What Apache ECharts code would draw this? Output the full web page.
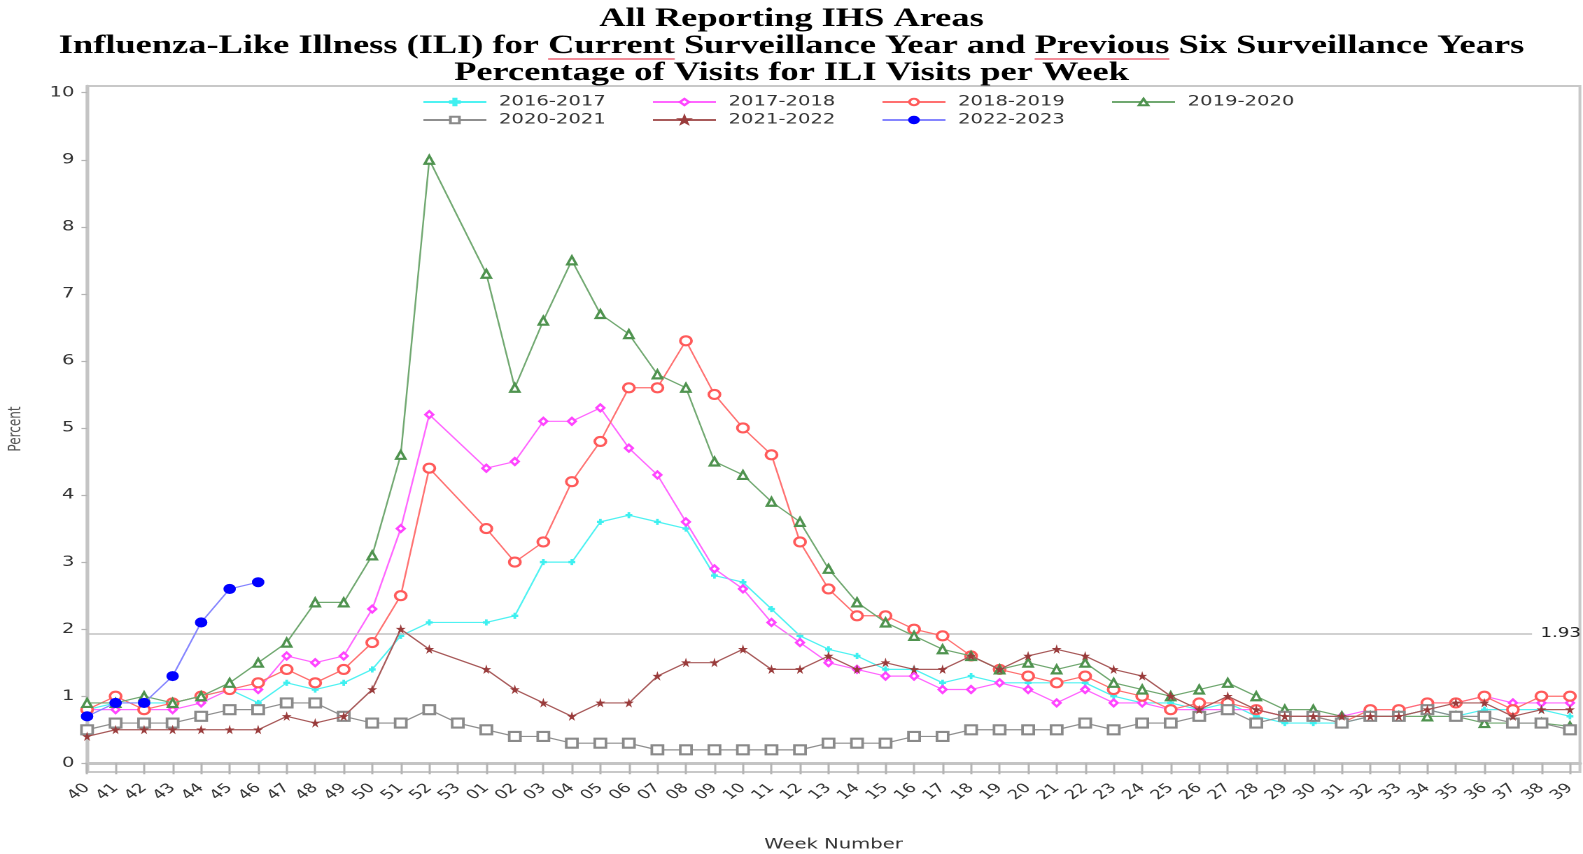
<!DOCTYPE html>
<html>
<head>
<meta charset="utf-8">
<script src="https://cdn.jsdelivr.net/npm/echarts@6/dist/echarts.min.js"></script>
<style>
html,body{margin:0;padding:0;background:#fff;overflow:hidden;width:1583px;height:854px;}
#main{width:1131px;height:854px;transform:scaleX(1.39965);transform-origin:0 0;}
</style>
</head>
<body>
<div id="main"></div>
<script>
// ---------- data ----------
const weekLabels = ['40','41','42','43','44','45','46','47','48','49','50','51','52','53',
  '01','02','03','04','05','06','07','08','09','10','11','12','13','14','15','16','17','18','19','20',
  '21','22','23','24','25','26','27','28','29','30','31','32','33','34','35','36','37','38','39'];
const yTicks = [0,1,2,3,4,5,6,7,8,9,10];
const seriesNames = ['2016-2017','2017-2018','2018-2019','2019-2020','2020-2021','2021-2022','2022-2023'];
const baseline = 1.93;

const s1617 = [0.8,0.9,0.9,0.9,1.0,1.1,0.9,1.2,1.1,1.2,1.4,1.9,2.1,null,2.1,2.2,3.0,3.0,3.6,3.7,3.6,3.5,2.8,2.7,2.3,1.9,1.7,1.6,1.4,1.4,1.2,1.3,1.2,1.2,1.2,1.2,1.0,0.9,0.9,0.8,0.9,0.7,0.6,0.6,0.6,0.7,0.7,0.8,0.7,0.8,0.8,0.8,0.7];
const s1718 = [0.8,0.8,0.8,0.8,0.9,1.1,1.1,1.6,1.5,1.6,2.3,3.5,5.2,null,4.4,4.5,5.1,5.1,5.3,4.7,4.3,3.6,2.9,2.6,2.1,1.8,1.5,1.4,1.3,1.3,1.1,1.1,1.2,1.1,0.9,1.1,0.9,0.9,0.8,0.8,0.8,0.8,0.7,0.7,0.7,0.8,0.8,0.9,0.9,1.0,0.9,0.9,0.9];
const s1819 = [0.8,1.0,0.8,0.9,1.0,1.1,1.2,1.4,1.2,1.4,1.8,2.5,4.4,null,3.5,3.0,3.3,4.2,4.8,5.6,5.6,6.3,5.5,5.0,4.6,3.3,2.6,2.2,2.2,2.0,1.9,1.6,1.4,1.3,1.2,1.3,1.1,1.0,0.8,0.9,0.9,0.8,0.7,0.7,0.6,0.8,0.8,0.9,0.9,1.0,0.8,1.0,1.0];
const s1920 = [0.9,0.9,1.0,0.9,1.0,1.2,1.5,1.8,2.4,2.4,3.1,4.6,9.0,null,7.3,5.6,6.6,7.5,6.7,6.4,5.8,5.6,4.5,4.3,3.9,3.6,2.9,2.4,2.1,1.9,1.7,1.6,1.4,1.5,1.4,1.5,1.2,1.1,1.0,1.1,1.2,1.0,0.8,0.8,0.7,0.7,0.7,0.7,0.7,0.6,0.6,0.6,0.55];
const s2021 = [0.5,0.6,0.6,0.6,0.7,0.8,0.8,0.9,0.9,0.7,0.6,0.6,0.8,0.6,0.5,0.4,0.4,0.3,0.3,0.3,0.2,0.2,0.2,0.2,0.2,0.2,0.3,0.3,0.3,0.4,0.4,0.5,0.5,0.5,0.5,0.6,0.5,0.6,0.6,0.7,0.8,0.6,0.7,0.7,0.6,0.7,0.7,0.8,0.7,0.7,0.6,0.6,0.5];
const s2122 = [0.4,0.5,0.5,0.5,0.5,0.5,0.5,0.7,0.6,0.7,1.1,2.0,1.7,null,1.4,1.1,0.9,0.7,0.9,0.9,1.3,1.5,1.5,1.7,1.4,1.4,1.6,1.4,1.5,1.4,1.4,1.6,1.4,1.6,1.7,1.6,1.4,1.3,1.0,0.8,1.0,0.8,0.7,0.7,0.7,0.7,0.7,0.8,0.9,0.9,0.7,0.8,0.8];
const s2223 = [0.7,0.9,0.9,1.3,2.1,2.6,2.7];

// ---------- chart ----------
const W = 1131;
const chart = echarts.init(document.getElementById('main'), null, {devicePixelRatio: 2});

const PLUS = 'path://M3,0H5V3H8V5H5V8H3V5H0V3H3Z';
const STAR = 'path://M50,0L61,35L98,35L68,57L79,91L50,70L21,91L32,57L2,35L39,35Z';

const styles = [
  {color:'#3ff0f0', line:'#4ff2f2', symbol:PLUS, size:[4,5]},
  {color:'#ff44ff', line:'#ff66ff', symbol:'emptyDiamond', size:[5.5,7]},
  {color:'#ff5a5a', line:'#ff7070', symbol:'emptyCircle', size:[8,9]},
  {color:'#4f934f', line:'#70a870', symbol:'emptyTriangle', size:[6.5,8]},
  {color:'#8a8a8a', line:'#8f8f8f', symbol:'emptyRect', size:[8,9]},
  {color:'#9a3c3c', line:'#a85a5a', symbol:STAR, size:[4.5,6]},
  {color:'#0000ff', line:'#8585ff', symbol:'circle', size:[8,9]}
];
const dataArrays = [s1617, s1718, s1819, s1920, s2021, s2122, s2223];

const series = dataArrays.map((arr, k) => ({
  name: seriesNames[k],
  type: 'line',
  data: arr.map((v, i) => [i, v]),
  connectNulls: true,
  symbol: styles[k].symbol,
  symbolSize: styles[k].size,
  showAllSymbol: true,
  z: 3 + k,
  lineStyle: {color: styles[k].line, width: 1.2},
  itemStyle: {color: styles[k].color, borderColor: styles[k].color, borderWidth: 1},
  emphasis: {disabled: true}
}));

series.push({
  name: 'ref', type: 'line', data: [], z: 1, silent: true,
  markLine: {
    silent: true, symbol: 'none', animation: false,
    lineStyle: {color: '#c2c2c2', width: 1.5, type: 'solid'},
    label: {show: true, position: 'end', distance: 6, formatter: String(baseline),
            color: '#222', fontSize: 13, fontFamily: 'DejaVu Sans'},
    data: [[{coord: [0, baseline]}, {coord: [50.67, baseline]}]]
  }
});

// title underline positions (measured from the rendered font)
const titleFont = 'bold 26px "Liberation Serif"';
const ctx = document.createElement('canvas').getContext('2d');
ctx.font = titleFont;
const line2 = 'Influenza-Like Illness (ILI) for Current Surveillance Year and Previous Six Surveillance Years';
const w2 = ctx.measureText(line2).width;
const x0 = W / 2 - w2 / 2;
const pA = ctx.measureText('Influenza-Like Illness (ILI) for ').width;
const wA = ctx.measureText('Current').width;
const pB = ctx.measureText('Influenza-Like Illness (ILI) for Current Surveillance Year and ').width;
const wB = ctx.measureText('Previous').width;

const idx = weekLabels.map((_, i) => i);

chart.setOption({
  animation: false,
  backgroundColor: '#fff',
  title: {
    text: 'All Reporting IHS Areas\n' + line2 + '\nPercentage of Visits for ILI Visits per Week',
    left: 'center', top: 6, padding: 0,
    textStyle: {fontFamily: 'Liberation Serif', fontWeight: 'bold', fontSize: 26, lineHeight: 27, color: '#000'}
  },
  graphic: [
    {type: 'rect', shape: {x: x0 + pA, y: 58, width: wA, height: 2}, style: {fill: '#f08c98'}, silent: true, z: 0},
    {type: 'rect', shape: {x: x0 + pB, y: 58, width: wB, height: 2}, style: {fill: '#f08c98'}, silent: true, z: 0}
  ],
  legend: {
    data: seriesNames,
    left: 301.5, top: 95, width: 660, padding: 0,
    itemWidth: 45, itemHeight: 8, itemGap: 4,
    textStyle: {fontFamily: 'DejaVu Sans', fontSize: 14, color: '#333', lineHeight: 14,
                width: 105, padding: [0, 0, 0, 4]},
    selectedMode: false
  },
  grid: {left: 62.2, right: 2.2, top: 86, bottom: 82, show: true, borderColor: '#c8c8c8', borderWidth: 2,
         containLabel: false, outerBoundsMode: 'none'},
  xAxis: {
    type: 'value', min: 0, max: 52.35,
    name: 'Week Number', nameLocation: 'middle', nameGap: 66,
    nameTextStyle: {fontFamily: 'DejaVu Sans', fontSize: 14, color: '#333'},
    axisLine: {show: true, lineStyle: {color: '#c4c4c4', width: 3}},
    axisTick: {show: true, length: 11, customValues: idx, lineStyle: {color: '#b4b4b4', width: 1.5}},
    axisLabel: {customValues: idx, rotate: 45, margin: 14, fontFamily: 'DejaVu Sans', fontSize: 13, color: '#333',
                formatter: v => weekLabels[Math.round(v)]},
    splitLine: {show: false}
  },
  yAxis: {
    type: 'value', min: -0.13, max: 10.1,
    name: 'Percent', nameLocation: 'middle', nameGap: 45, nameRotate: 90,
    nameTextStyle: {fontFamily: 'DejaVu Sans', fontSize: 12, color: '#555'},
    axisLine: {show: true, lineStyle: {color: '#c4c4c4', width: 2.5}},
    axisTick: {show: true, length: 4, customValues: yTicks, lineStyle: {color: '#b4b4b4', width: 1.2}},
    axisLabel: {customValues: yTicks, margin: 9, fontFamily: 'DejaVu Sans', fontSize: 14, color: '#333'},
    splitLine: {show: false}
  },
  series: series
});
</script>
</body>
</html>
